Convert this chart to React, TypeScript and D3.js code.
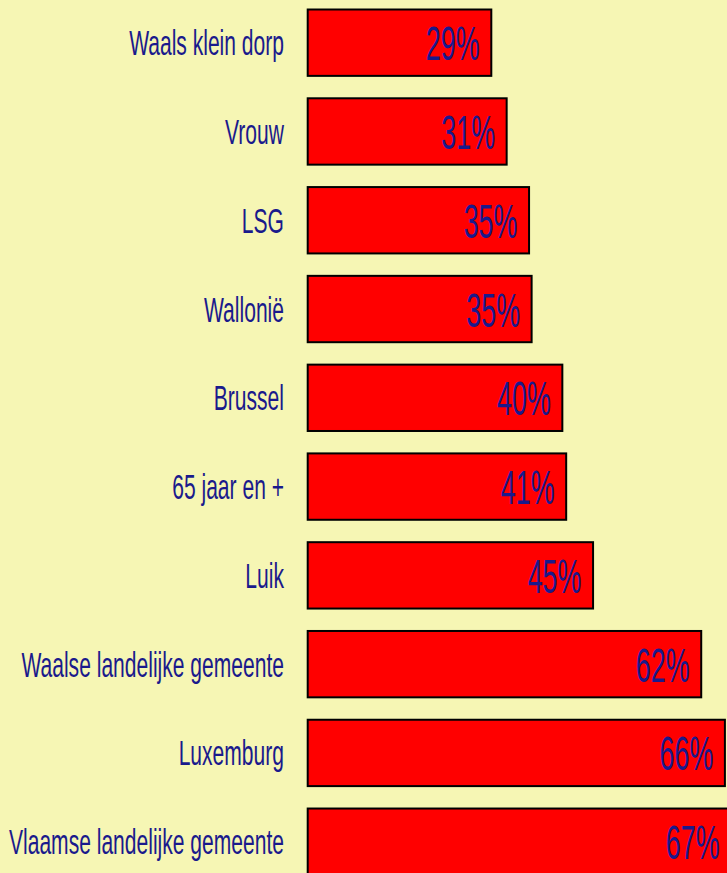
import React from "react";
import * as d3 from "d3";

const categories: string[] = [
  "Waals klein dorp",
  "Vrouw",
  "LSG",
  "Wallonië",
  "Brussel",
  "65 jaar en +",
  "Luik",
  "Waalse landelijke gemeente",
  "Luxemburg",
  "Vlaamse landelijke gemeente",
];
const values: number[] = [29, 31.4, 34.9, 35.3, 40.1, 40.7, 44.9, 61.8, 65.5, 66.5];

const W = 727;
const H = 873;
const BG = "#F6F6B4";
const NAVY = "#1A1A8C";
const FONT = "'Liberation Sans', Arial, sans-serif";

export default function App() {
  const x = d3.scaleLinear().domain([0, 100]).range([306.7, 306.7 + 640]);
  const y = d3
    .scaleBand<string>()
    .domain(categories)
    .range([-1.7, 886.1])
    .paddingInner(0.23)
    .paddingOuter(0.115);
  const bw = y.bandwidth();
  const sw = 2;

  return (
    <svg
      width={W}
      height={H}
      style={{ position: "absolute", left: 0, top: 0, display: "block" }}
    >
      <rect x={0} y={0} width={W} height={H} fill={BG} />
      {categories.map((c, i) => {
        const top = y(c) as number;
        const cy = top + bw / 2;
        const x0 = x(0);
        const x1 = x(values[i]);
        return (
          <g key={c}>
            <rect
              x={x0 + sw / 2}
              y={top + sw / 2}
              width={x1 - x0 - sw}
              height={bw - sw}
              fill="#FF0000"
              stroke="#000"
              strokeWidth={sw}
            />
            <text
              transform={`translate(284,${cy + 12.5}) scale(0.585,1)`}
              textAnchor="end"
              fontFamily={FONT}
              fontSize={36}
              fill={NAVY}
            >
              {c}
            </text>
            <text
              transform={`translate(${x1 - 12.5},${cy + 17.5}) scale(0.55,1)`}
              textAnchor="end"
              fontFamily={FONT}
              fontSize={49}
              fill={NAVY}
            >
              {`${Math.round(values[i])}%`}
            </text>
          </g>
        );
      })}
    </svg>
  );
}
